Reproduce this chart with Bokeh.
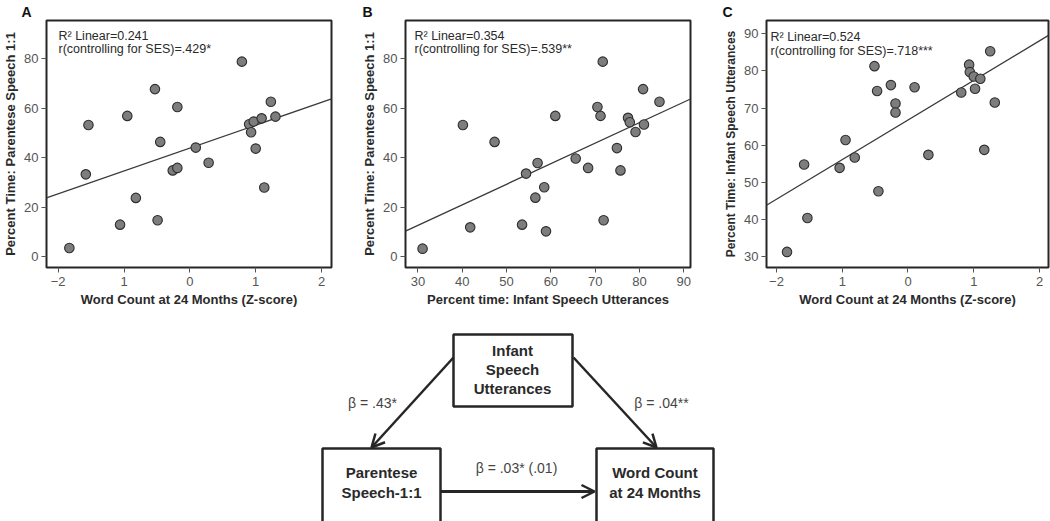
from bokeh.plotting import figure
from bokeh.models import Range1d, FixedTicker, Label, Arrow, OpenHead
from bokeh.layouts import column, row
from bokeh.embed import file_html
from bokeh.resources import INLINE
from bokeh.core.properties import value

# ---------------- data ----------------
# Panel A: word count z-score vs percent time parentese speech 1:1
word_z_A = [-1.83, -1.58, -1.54, -0.95, -1.06, -0.82, -0.53, -0.49, -0.45, -0.26, -0.19, -0.19,
            0.09, 0.285, 0.79, 0.90, 0.93, 0.97, 1.00, 1.09, 1.13, 1.23, 1.30]
parentese_A = [3.6, 33.3, 53.2, 56.9, 13.0, 23.8, 67.7, 14.8, 46.4, 34.9, 35.9, 60.5,
               44.1, 38.0, 78.8, 53.5, 50.3, 54.6, 43.7, 55.9, 28.0, 62.6, 56.6]
fit_A = (43.9, 9.24)          # intercept, slope
stats_A = ["R\u00b2 Linear=0.241", "r(controlling for SES)=.429*"]

# Panel B: percent time infant speech utterances vs parentese speech 1:1
infant_B = [31.05, 40.15, 41.8, 47.3, 53.5, 54.4, 56.5, 57.0, 58.5, 58.9, 61.0, 65.6, 68.4,
            70.5, 71.2, 71.7, 71.9, 74.9, 75.7, 77.4, 77.8, 79.1, 80.8, 81.0, 84.5]
parentese_B = [3.3, 53.2, 11.9, 46.4, 13.0, 33.6, 23.9, 37.9, 28.1, 10.3, 56.9, 39.7, 35.9,
               60.5, 56.9, 78.8, 14.8, 43.9, 34.9, 56.1, 54.3, 50.4, 67.7, 53.4, 62.6]
fit_B = (-12.15, 0.829)
stats_B = ["R\u00b2 Linear=0.354", "r(controlling for SES)=.539**"]

# Panel C: word count z-score vs infant speech utterances
word_z_C = [-1.84, -1.58, -1.53, -1.04, -0.95, -0.81, -0.51, -0.47, -0.45, -0.26, -0.19, -0.19,
            0.10, 0.31, 0.81, 0.93, 0.94, 1.00, 1.02, 1.10, 1.16, 1.25, 1.32]
infant_C = [31.25, 54.8, 40.4, 53.9, 61.4, 56.7, 81.3, 74.6, 47.6, 76.2, 71.25, 68.8,
            75.6, 57.4, 74.2, 81.7, 79.7, 78.5, 75.2, 77.9, 58.75, 85.3, 71.5]
fit_C = (66.8, 10.67)
stats_C = ["R\u00b2 Linear=0.524", "r(controlling for SES)=.718***"]

z_ticks = [-2, -1, 0, 1, 2]
z_tick_labels = ["\u22122", "1", "0", "1", "2"]   # as printed in the figure
pct_ticks_B_x = [30, 40, 50, 60, 70, 80, 90]
pct_ticks_AB_y = [0, 20, 40, 60, 80]
pct_ticks_C_y = [30, 40, 50, 60, 70, 80, 90]

# mediation diagram
node_top = ["Infant", "Speech", "Utterances"]
node_left = ["Parentese", "Speech-1:1"]
node_right = ["Word Count", "at 24 Months"]
beta_a = "\u03b2 = .43*"
beta_b = "\u03b2 = .04**"
beta_c = "\u03b2 = .03* (.01)"

FONT = "Liberation Sans"
TXT = "#2a2a2a"
TICK = "#555555"


def panel(letter, xs, ys, fit, stats, xr, yr, xticks, xlabels, yticks, xtitle, ytitle,
          width, bl, br, stat_dx, stat_y, letter_dx, ytitle_size="13px"):
    p = figure(width=width, height=320, x_range=Range1d(*xr), y_range=Range1d(*yr),
               output_backend="svg", toolbar_location=None,
               min_border_left=bl, min_border_right=br, min_border_top=18,
               min_border_bottom=53, background_fill_color="white",
               border_fill_color="white", title=letter)
    p.title.align = "left"
    p.title.offset = letter_dx
    p.title.standoff = 2
    p.title.text_font = FONT
    p.title.text_font_style = "bold"
    p.title.text_font_size = "14px"
    p.title.text_color = "#111111"
    p.grid.visible = False
    p.outline_line_color = "#262626"
    p.outline_line_width = 2
    p.outline_line_alpha = 1
    for ax in (p.xaxis, p.yaxis):
        ax.axis_line_color = None
        ax.major_tick_out = 5
        ax.major_tick_in = 0
        ax.major_tick_line_color = "#555555"
        ax.minor_tick_line_color = None
        ax.major_label_text_font = FONT
        ax.major_label_text_font_size = "13px"
        ax.major_label_text_color = TICK
        ax.axis_label_text_font = FONT
        ax.axis_label_text_font_style = "bold"
        ax.axis_label_text_color = TXT
    p.xaxis.ticker = FixedTicker(ticks=xticks)
    if xlabels is not None:
        p.xaxis.major_label_overrides = {t: l for t, l in zip(xticks, xlabels)}
    p.yaxis.ticker = FixedTicker(ticks=yticks)
    p.xaxis.axis_label = xtitle
    p.yaxis.axis_label = ytitle
    p.xaxis.axis_label_text_font_size = "13px"
    p.yaxis.axis_label_text_font_size = ytitle_size
    p.xaxis.major_label_standoff = 4
    p.xaxis.axis_label_standoff = 3
    p.yaxis.major_label_standoff = 3
    p.yaxis.axis_label_standoff = 3

    # regression line across the x range
    x0, x1 = xr
    p.line([x0, x1], [fit[0] + fit[1] * x0, fit[0] + fit[1] * x1],
           line_color="#3a3a3a", line_width=1.3)
    p.scatter(xs, ys, size=9.5, marker="circle", fill_color="#7d7d7d",
              line_color="#2e2e2e", line_width=1.1)

    p.add_layout(Label(x=stat_dx, y=stat_y[0], x_units="screen", y_units="screen",
                       text=stats[0], text_font=FONT, text_font_size="12.5px",
                       text_color=TXT, text_baseline="alphabetic"))
    p.add_layout(Label(x=stat_dx, y=stat_y[1], x_units="screen", y_units="screen",
                       text=stats[1], text_font=FONT, text_font_size="12.5px",
                       text_color=TXT, text_baseline="alphabetic"))
    return p


pA = panel("A", word_z_A, parentese_A, fit_A, stats_A, (-2.177, 2.151), (-4.3, 95.4),
           z_ticks, z_tick_labels, pct_ticks_AB_y,
           "Word Count at 24 Months (Z-score)", "Percent Time: Parentese Speech 1:1",
           349, 45, 18, 12, (232, 219), -25)
pB = panel("B", infant_B, parentese_B, fit_B, stats_B, (27.2, 91.5), (-4.3, 95.4),
           pct_ticks_B_x, None, pct_ticks_AB_y,
           "Percent time: Infant Speech Utterances", "Percent Time: Parentese Speech 1:1",
           348, 56, 7, 9, (232, 219), -43)
pC = panel("C", word_z_C, infant_C, fit_C, stats_C, (-2.152, 2.137), (27.05, 93.6),
           z_ticks, z_tick_labels, pct_ticks_C_y,
           "Word Count at 24 Months (Z-score)", "Percent Time: Infant Speech Utterances",
           353, 69, 2, 4, (231, 217), -44, ytitle_size="12px")

# ---------------- mediation diagram ----------------
d = figure(width=1050, height=201, x_range=Range1d(0, 1050), y_range=Range1d(521, 320),
           output_backend="svg", toolbar_location=None, x_axis_location=None,
           y_axis_location=None, min_border=0, outline_line_color=None)
d.grid.visible = False

box_col = "#262626"
d.quad(left=[453, 322, 596], right=[572, 440, 713], top=[334, 448, 448],
       bottom=[406, 535, 535], fill_color="white", line_color=box_col, line_width=2.5)

d.text(x=[512] * 3, y=[350, 369, 388], text=node_top, text_align="center",
       text_baseline="middle", text_font=value(FONT), text_font_style="bold",
       text_font_size="15px", text_color=TXT)
d.text(x=[381] * 2, y=[472, 492], text=node_left, text_align="center",
       text_baseline="middle", text_font=value(FONT), text_font_style="bold",
       text_font_size="15px", text_color=TXT)
d.text(x=[654.5] * 2, y=[472, 492], text=node_right, text_align="center",
       text_baseline="middle", text_font=value(FONT), text_font_style="bold",
       text_font_size="15px", text_color=TXT)

d.text(x=[372, 661, 516], y=[402, 402, 467], text=[beta_a, beta_b, beta_c],
       text_align="center", text_baseline="middle", text_font=value(FONT),
       text_font_size="14px", text_color="#444444")

for (xs0, ys0, xe, ye, lw) in ((453, 357, 371, 447, 2.5), (573, 357, 656, 447, 2.5),
                               (440, 491, 594, 491, 3)):
    d.add_layout(Arrow(end=OpenHead(size=13, line_width=2.5, line_color=box_col),
                       x_start=xs0, y_start=ys0, x_end=xe, y_end=ye,
                       line_color=box_col, line_width=lw))

layout = column(row(pA, pB, pC), d)
open("out.html", "w").write(file_html(layout, INLINE))
